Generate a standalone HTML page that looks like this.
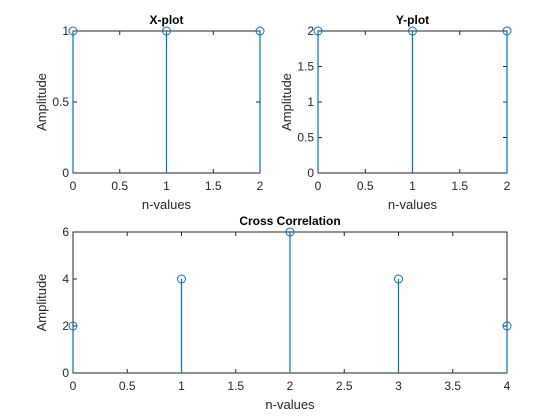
<!DOCTYPE html>
<html><head><meta charset="utf-8"><style>
html,body{margin:0;padding:0;background:#fff;}
svg{display:block;font-family:"Liberation Sans",Arial,sans-serif;}
</style></head><body>
<svg id="fig" width="560" height="420" viewBox="0 0 560 420"></svg>
<script>
const xCats=[0,1,2];
const xVals=[1,1,1];
const yCats=[0,1,2];
const yVals=[2,2,2];
const cCats=[0,1,2,3,4];
const cVals=[2,4,6,4,2];
const xXTicks=[0,0.5,1,1.5,2], xYTicks=[0,0.5,1];
const yXTicks=[0,0.5,1,1.5,2], yYTicks=[0,0.5,1,1.5,2];
const cXTicks=[0,0.5,1,1.5,2,2.5,3,3.5,4], cYTicks=[0,2,4,6];
const NS="http://www.w3.org/2000/svg";
const svg=document.getElementById('fig');
function mk(t,a,p){const e=document.createElementNS(NS,t);for(const k in a)e.setAttribute(k,a[k]);(p||svg).appendChild(e);return e;}
function plot(name,box,xd,yd,xt,yt,cats,vals,title){
  const g=mk('g',{});
  
  
  const sx=v=>box.l+(v-xd[0])/(xd[1]-xd[0])*(box.r-box.l);
  const sy=v=>box.b-(v-yd[0])/(yd[1]-yd[0])*(box.b-box.t);
  mk('rect',{x:box.l,y:box.t,width:box.r-box.l,height:box.b-box.t,fill:'#fff',stroke:'#262626','stroke-width':1},g);
  xt.forEach(v=>{const x=sx(v);
    mk('line',{x1:x,x2:x,y1:box.b,y2:box.b-4,stroke:'#262626'},g);
    mk('line',{x1:x,x2:x,y1:box.t,y2:box.t+4,stroke:'#262626'},g);
    const t=mk('text',{x:x,y:box.b+17,'text-anchor':'middle','font-size':12,fill:'#262626'},g);t.textContent=v;
    
    });
  yt.forEach(v=>{const y=sy(v);
    mk('line',{x1:box.l,x2:box.l+4,y1:y,y2:y,stroke:'#262626'},g);
    mk('line',{x1:box.r,x2:box.r-4,y1:y,y2:y,stroke:'#262626'},g);
    const t=mk('text',{x:box.l-4,y:y+4,'text-anchor':'end','font-size':12,fill:'#262626'},g);t.textContent=v;
    
    });
  cats.forEach((c,i)=>{const x=sx(c),y=sy(vals[i]);
    const l=mk('line',{x1:x,x2:x,y1:sy(0),y2:y,stroke:'#0072BD','stroke-width':1.2},g);
    
    
    const m=mk('circle',{cx:x,cy:y,r:4,fill:'none',stroke:'#0072BD','stroke-width':1},g);
    
    });
  const tt=mk('text',{x:(box.l+box.r)/2,y:box.t-7,'text-anchor':'middle','font-size':12,'font-weight':'bold',fill:'#000'},g);tt.textContent=title;
  
  
  const xl=mk('text',{x:(box.l+box.r)/2,y:box.b+36,'text-anchor':'middle','font-size':13,fill:'#262626'},g);xl.textContent='n-values';
  
  
  const cy=(box.t+box.b)/2;
  const yl=mk('text',{x:box.l-27,y:cy,'text-anchor':'middle','font-size':13,fill:'#262626',transform:`rotate(-90 ${box.l-27} ${cy})`},g);yl.textContent='Amplitude';
  
  
}
plot('x-plot',{l:73,r:260,t:31,b:173},[0,2],[0,1],xXTicks,xYTicks,xCats,xVals,'X-plot');
plot('y-plot',{l:318,r:507,t:31,b:173},[0,2],[0,2],yXTicks,yYTicks,yCats,yVals,'Y-plot');
plot('cross-correlation-plot',{l:73,r:507,t:232,b:373},[0,4],[0,6],cXTicks,cYTicks,cCats,cVals,'Cross Correlation');
</script>
</body></html>
